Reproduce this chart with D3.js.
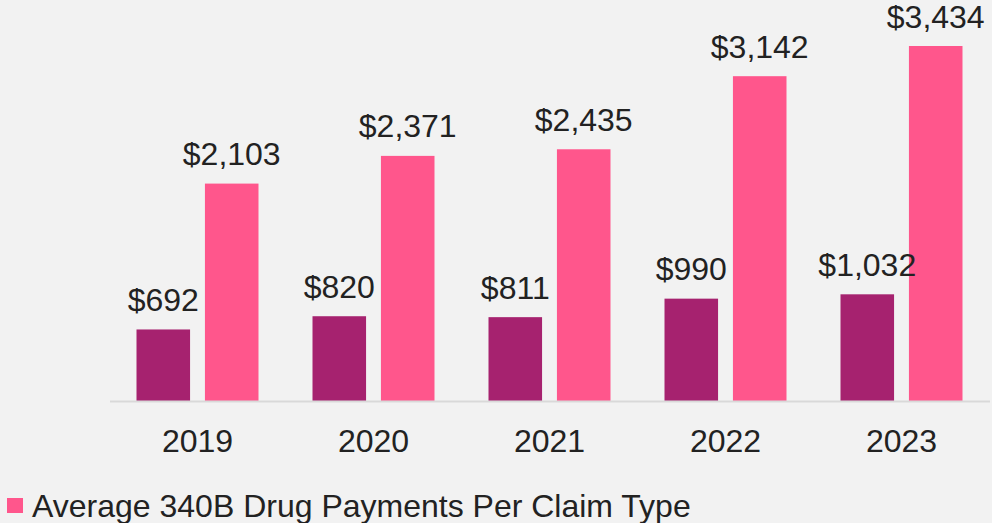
<!DOCTYPE html>
<html><head><meta charset="utf-8">
<script src="https://cdn.jsdelivr.net/npm/d3@7"></script>
<style>html,body{margin:0;padding:0;background:#f2f2f2;}svg{display:block;font-family:"Liberation Sans",Arial,sans-serif;}</style>
</head><body>
<svg id="chart" width="992" height="523"></svg>
<script>
const years = ["2019","2020","2021","2022","2023"];
const seriesA = [692, 820, 811, 990, 1032];
const seriesB = [2103, 2371, 2435, 3142, 3434];
const legendLabel = "Average 340B Drug Payments Per Claim Type";
const colors = ["#a6226f", "#ff568c"];

const svg = d3.select("#chart");
const baseY = 401, topY = 46;
const x0 = d3.scaleBand().domain(years).range([109.5, 989.5]).paddingInner(0).paddingOuter(0);
const y = d3.scaleLinear().domain([0, 3434]).range([baseY, topY]);
const keys = ["a","b"];
const data = years.map((yr,i)=>({year:yr, a:seriesA[i], b:seriesB[i]}));
const x1 = d3.scaleBand().domain(keys).range([27, 149]).paddingInner(15/69).paddingOuter(0);
const color = d3.scaleOrdinal().domain(keys).range(colors);
const fmt = d3.format("$,");
const txt = "#222222";

const groups = svg.append("g").selectAll("g.grp").data(data).join("g").attr("class","grp")
  .attr("transform", d=>`translate(${x0(d.year)},0)`);
groups.selectAll("rect").data(d=>keys.map(k=>({k, v:d[k]}))).join("rect")
  .attr("x", d=>x1(d.k)).attr("width", x1.bandwidth())
  .attr("y", d=>y(d.v)).attr("height", d=>baseY - y(d.v))
  .attr("fill", d=>color(d.k));
groups.selectAll("text.lbl").data(d=>keys.map(k=>({k, v:d[k]}))).join("text").attr("class","lbl")
  .attr("x", d=>x1(d.k)+x1.bandwidth()/2).attr("y", d=>y(d.v)-18.5)
  .attr("text-anchor","middle").attr("font-size", 32).attr("fill",txt)
  .text(d=>fmt(d.v));

const ax = svg.append("g").attr("transform",`translate(0,${baseY})`)
  .call(d3.axisBottom(x0).tickSize(0).tickPadding(28));
ax.select(".domain").attr("stroke","#d9d9d9").attr("stroke-width",2);
ax.selectAll("text").attr("font-size",32).attr("fill",txt).attr("font-family","Liberation Sans, Arial, sans-serif");

const lg = svg.append("g");
lg.append("rect").attr("x",7).attr("y",498).attr("width",16).attr("height",15).attr("fill",colors[1]);
lg.append("text").attr("x",32).attr("y",517).attr("font-size",32).attr("fill",txt).text(legendLabel);
</script>
</body></html>
